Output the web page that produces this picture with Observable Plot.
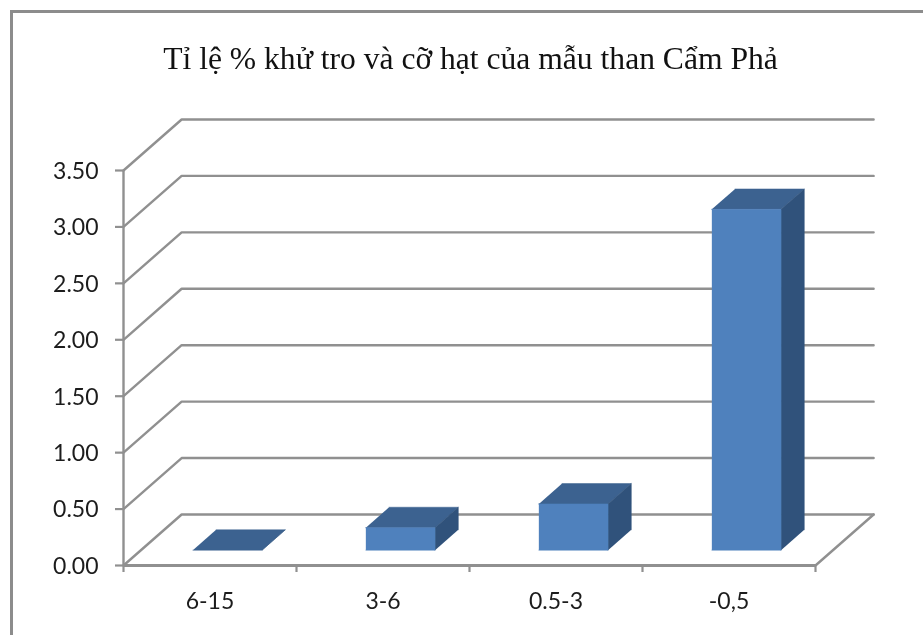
<!DOCTYPE html>
<html><head><meta charset="utf-8">
<script src="https://cdn.jsdelivr.net/npm/d3@7"></script>
<script src="https://cdn.jsdelivr.net/npm/@observablehq/plot@0.6"></script>
<style>
html,body{margin:0;padding:0;background:#fff;overflow:hidden;width:923px;height:635px}
#chart{position:relative;width:923px;height:635px}
#chart svg{display:block;position:absolute;left:0;top:0;background:transparent;filter:blur(0.45px)}
#chart::before{content:"";position:absolute;left:10px;top:10px;width:960px;height:700px;border:3px solid #8c8c8c}
</style></head>
<body><div id="chart"></div>
<script>
const titleText = "Tỉ lệ % khử tro và cỡ hạt của mẫu than Cẩm Phả";
const categories = ["6-15", "3-6", "0.5-3", "-0,5"];
const values = [0.0, 0.2, 0.41, 3.02];
const yTicks = [0, 0.5, 1, 1.5, 2, 2.5, 3, 3.5];
const depthX = 0.336, depthY = 0.452;
const gridColor = "#909090", frontColor = "#4f81bd", topColor = "#3c6290", sideColor = "#30527b", inkColor = "#1c1c1c";

// oblique projection: category position, value, depth fraction
const P = (c, v, d) => ({x: c + d * depthX, y: v + d * depthY});
const x0 = i => i + 0.3, x1 = i => i + 0.7;
const grid = yTicks.flatMap(v => [P(0, v, 0), P(0, v, 1), P(categories.length, v, 1)].map(p => ({...p, z: v})));
const rightEdge = [P(categories.length, 0, 0), P(categories.length, 0, 1)];
const face = fn => values.flatMap((v, i) => fn(i, v).map(p => ({...p, z: i})));
const fronts = face((i, v) => [P(x0(i), 0, .3), P(x1(i), 0, .3), P(x1(i), v, .3), P(x0(i), v, .3)]);
const sides = face((i, v) => [P(x1(i), 0, .3), P(x1(i), v, .3), P(x1(i), v, .7), P(x1(i), 0, .7)]);
const tops = face((i, v) => [P(x0(i), v, .3), P(x1(i), v, .3), P(x1(i), v, .7), P(x0(i), v, .7)]);
const poly = (data, fill) => Plot.line(data, {x: "x", y: "y", z: "z", fill, stroke: fill, strokeWidth: 0.5});

const plot = Plot.plot({
  width: 923, height: 635,
  marginLeft: 123, marginRight: 108, marginTop: 170, marginBottom: 70,
  style: {background: "transparent", fontFamily: "Lato, sans-serif"},
  x: {type: "linear", domain: [0, categories.length], label: null},
  y: {type: "linear", domain: [0, 3.5], label: null},
  marks: [
    Plot.line(grid, {x: "x", y: "y", z: "z", stroke: gridColor, strokeWidth: 2.4}),
    Plot.line(rightEdge, {x: "x", y: "y", stroke: gridColor, strokeWidth: 2.4}),
    Plot.ruleX([0], {stroke: gridColor, strokeWidth: 2.4}),
    Plot.ruleY([0], {stroke: gridColor, strokeWidth: 2.8}),
    poly(tops, topColor),
    poly(sides, sideColor),
    poly(fronts.filter(d => values[d.z] > 0), frontColor),
    Plot.axisY(yTicks, {anchor: "left", tickSize: 8, tickFormat: () => "", label: null,
      stroke: gridColor, strokeWidth: 2.2}),
    Plot.axisY(yTicks, {anchor: "left", tickSize: 0, tickPadding: 25, dy: 1, tickFormat: d3.format(".2f"), label: null,
      fill: inkColor, color: inkColor, fontSize: 23}),
    Plot.axisX(d3.range(categories.length + 1), {anchor: "bottom", tickSize: 7, tickFormat: () => "", label: null,
      stroke: gridColor, strokeWidth: 2.2}),
    Plot.axisX(categories.map((c, i) => i + 0.5), {anchor: "bottom", tickSize: 0, tickPadding: 27,
      tickFormat: t => categories[t - 0.5], fontSize: 23, fill: inkColor, color: inkColor, label: null}),
    Plot.text([titleText], {frameAnchor: "top", dx: 1, dy: -124, fontFamily: "'Liberation Serif', serif",
      fontSize: 31.6, fill: "#111"})
  ]
});
document.getElementById("chart").append(plot);
</script>
</body></html>
